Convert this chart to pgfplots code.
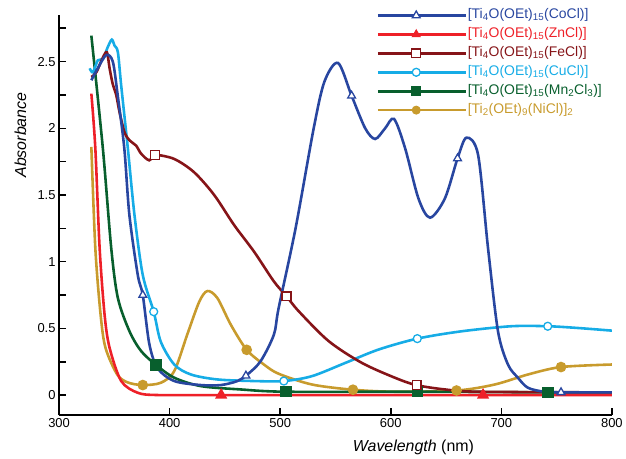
\documentclass[border=0pt]{standalone}
\usepackage{pgfplots}
\pgfplotsset{compat=1.18}
\usepackage{fontspec}
\setmainfont{Liberation Sans}

\definecolor{coC}{RGB}{40,70,160}
\definecolor{znC}{RGB}{238,32,40}
\definecolor{feC}{RGB}{134,20,24}
\definecolor{cuC}{RGB}{22,172,230}
\definecolor{mnC}{RGB}{8,95,45}
\definecolor{niC}{RGB}{200,155,45}

\begin{document}
\begin{tikzpicture}[x=1pt,y=1pt]
\path (0,0) rectangle (626,460);
\begin{axis}[
  at={(59.3pt,43.3pt)}, anchor=south west,
  scale only axis, width=555pt, height=401.7pt,
  xmin=300, xmax=800, ymin=-0.15, ymax=2.85,
  axis lines*=left,
  axis line style={line width=2pt},
  tick align=inside,
  xtick={300,400,...,800},
  ytick={0,0.5,...,2.5},
  minor ytick={0.25,0.75,...,2.75},
  major tick length=7pt, minor tick length=7pt,
  tick style={line width=1.6pt, black},
  /pgf/number format/assume math mode=true,
  ticklabel style={font=\fontsize{13}{13}\selectfont},
  xlabel={\textit{Wavelength} (nm)},
  ylabel={\textit{Absorbance}},
  xlabel style={font=\fontsize{16}{16}\selectfont, at={(axis description cs:0.641,-0.08)}, anchor=center},
  ylabel style={font=\fontsize{16}{16}\selectfont, at={(axis description cs:-0.07,0.70)}, anchor=center},
  legend style={at={(axis description cs:0.574,1.019)}, anchor=north west,
    draw=none, fill=none, inner sep=0pt, row sep=3pt,
    font=\fontsize{14}{14}\selectfont,
    nodes={inner sep=1pt, text height=10pt, text depth=4pt},
    /tikz/every even column/.append style={column sep=0pt}},
  legend cell align=left,
  legend image code/.code={
    \draw[mark repeat=2, mark phase=2, #1] plot coordinates {(0pt,0pt) (38.5pt,0pt) (77pt,0pt)};
    \path (77pt,0pt) -- (88pt,0pt);
  },
  every axis plot/.append style={line width=2.6pt, smooth, tension=0.5},
]
\addlegendimage{coC, line width=2.6pt, mark=triangle*, mark size=4.5pt, mark options={fill=white, line width=1.3pt}}
\addlegendentry{\textcolor{coC}{[Ti\textsubscript{4}O(OEt)\textsubscript{15}(CoCl)]}}
\addlegendimage{znC, line width=2.6pt, mark=triangle*, mark size=4.5pt, mark options={fill=znC, line width=1pt}}
\addlegendentry{\textcolor{znC}{[Ti\textsubscript{4}O(OEt)\textsubscript{15}(ZnCl)]}}
\addlegendimage{feC, line width=2.6pt, mark=square*, mark size=4.5pt, mark options={fill=white, line width=1.3pt}}
\addlegendentry{\textcolor{feC}{[Ti\textsubscript{4}O(OEt)\textsubscript{15}(FeCl)]}}
\addlegendimage{cuC, line width=2.6pt, mark=*, mark size=4pt, mark options={fill=white, line width=1.3pt}}
\addlegendentry{\textcolor{cuC}{[Ti\textsubscript{4}O(OEt)\textsubscript{15}(CuCl)]}}
\addlegendimage{mnC, line width=2.6pt, mark=square*, mark size=4.5pt, mark options={fill=mnC, line width=1pt}}
\addlegendentry{\textcolor{mnC}{[Ti\textsubscript{4}O(OEt)\textsubscript{15}(Mn\textsubscript{2}Cl\textsubscript{3})]}}
\addlegendimage{niC, line width=2.6pt, mark=*, mark size=4pt, mark options={fill=niC, line width=1pt}}
\addlegendentry{\textcolor{niC}{[Ti\textsubscript{2}(OEt)\textsubscript{9}(NiCl)]\textsubscript{2}}}

% Ni
\addplot[niC, forget plot] coordinates {
(329.2,1.86)(332.8,1.10)(337.6,0.60)(342,0.354)(352.5,0.155)(362,0.095)(375.7,0.075)
(392,0.092)(404.2,0.18)(415.9,0.453)(426.8,0.70)(434.2,0.78)(443.2,0.727)(455.3,0.528)
(469.7,0.339)(485.3,0.229)(498.8,0.159)(528.8,0.079)(565.8,0.04)(604,0.025)(659.5,0.034)
(694,0.079)(724,0.154)(754,0.21)(800,0.229)};
\addplot[niC, only marks, mark=*, mark size=4pt, forget plot] coordinates {
(375.7,0.075)(469.7,0.339)(565.8,0.04)(659.5,0.034)(754,0.21)};
% Mn
\addplot[mnC, forget plot] coordinates {
(329.2,2.695)(339.6,1.85)(347.2,1.10)(353.2,0.727)(363.7,0.478)(374.2,0.33)(387.7,0.226)
(404.2,0.13)(428.3,0.067)(464.3,0.042)(505,0.025)(624,0.025)(742,0.02)(800,0.02)};
\addplot[mnC, only marks, mark=square*, mark size=4.5pt, forget plot] coordinates {
(387.7,0.226)(505.4,0.025)(624,0.025)(742,0.02)};
% Cu
\addplot[cuC, forget plot] coordinates {
(327.7,2.45)(330.6,2.42)(335.1,2.51)(339.6,2.52)(344.1,2.61)(347.7,2.665)(350.2,2.62)
(353.2,2.57)(356.2,2.32)(362.2,1.85)(368.2,1.35)(375.7,0.90)(385.6,0.625)(392,0.40)
(404.2,0.229)(419.3,0.154)(443.2,0.117)(476.3,0.105)(503.3,0.105)(528.8,0.142)
(558.9,0.241)(588.9,0.341)(624,0.423)(664,0.478)(709,0.516)(742,0.516)(769,0.503)(800,0.483)};
\addplot[cuC, only marks, mark=*, mark size=4pt, mark options={fill=white, line width=1.3pt}, forget plot] coordinates {
(385.6,0.625)(503.3,0.105)(624,0.423)(742,0.516)};
% Fe
\addplot[feC, forget plot] coordinates {
(329.2,2.385)(333.7,2.42)(339.6,2.53)(343.3,2.57)(345.7,2.45)(348.6,2.33)(351.7,2.25)
(354.7,2.12)(359.2,1.97)(363.7,1.91)(369.7,1.87)(374.2,1.81)(381.5,1.76)(387,1.80)
(404.2,1.77)(422.2,1.67)(440.3,1.50)(458.3,1.275)(476.3,1.076)(494.3,0.852)(505.8,0.74)
(516.8,0.628)(543.9,0.404)(573.9,0.241)(604,0.129)(623,0.075)(649,0.042)(680,0.025)(800,0.02)};
\addplot[feC, only marks, mark=square*, mark size=4.5pt, mark options={fill=white, line width=1.3pt}, forget plot] coordinates {
(387,1.80)(505.8,0.74)(623.4,0.075)};
% Zn
\addplot[znC, forget plot] coordinates {
(329.2,2.26)(332.8,1.85)(336.7,1.10)(341.2,0.60)(345.7,0.354)(356.2,0.105)(371.2,0.017)
(390,0.0)(450,0.0)(600,0.0)(800,0.0)};
\addplot[znC, only marks, mark=triangle*, mark size=4.5pt, forget plot] coordinates {
(446.6,0.0)(683.5,0.0)};
% Co
\addplot[coC, forget plot] coordinates {
(329.2,2.36)(335,2.45)(342.7,2.55)(348.6,2.50)(353,2.25)(359,1.85)(363.6,1.35)(371.2,0.90)
(375.7,0.75)(381.7,0.38)(389.2,0.20)(404.2,0.105)(428.3,0.075)(446.3,0.075)(461.3,0.105)
(470.3,0.154)(482.3,0.254)(494.3,0.453)(498.6,0.652)(513.9,1.25)(530.3,2.0)(540,2.35)
(552.3,2.49)(564.6,2.244)(576.9,2.0)(585.9,1.92)(594.9,2.0)(603,2.07)(613,1.85)(625,1.475)
(635.5,1.33)(649,1.475)(660.4,1.774)(668.5,1.93)(679,1.80)(688,1.10)(697,0.478)(706,0.229)
(715,0.13)(724,0.055)(739,0.025)(760,0.02)(800,0.02)};
\addplot[coC, only marks, mark=triangle*, mark size=4.5pt, mark options={fill=white, line width=1.3pt}, forget plot] coordinates {
(375.7,0.75)(469,0.145)(564.6,2.244)(660.4,1.774)(754,0.02)};
\end{axis}
\end{tikzpicture}
\end{document}
